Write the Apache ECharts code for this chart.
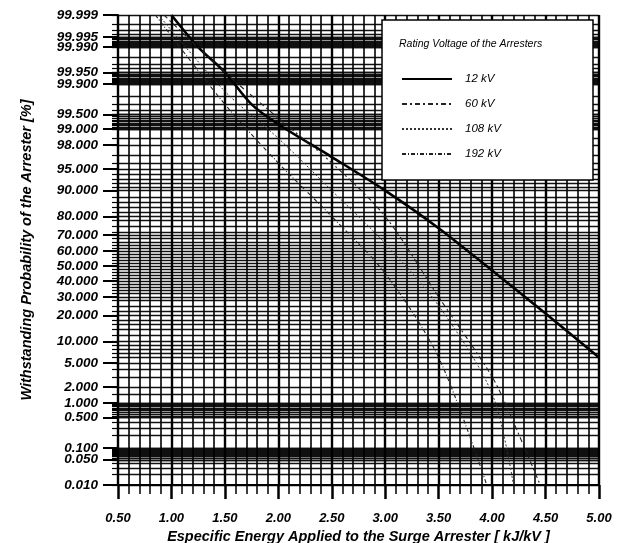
<!DOCTYPE html>
<html>
<head>
<meta charset="utf-8">
<script src="https://cdn.jsdelivr.net/npm/echarts@6/dist/echarts.min.js"></script>
<style>
html, body { margin: 0; padding: 0; background: #fff; }
#chart { width: 617px; height: 543px; }
</style>
</head>
<body>
<div id="chart"></div>
<script>
// labelled probabilities on the y axis (%)
const labelProbs = [99.999, 99.995, 99.99, 99.95, 99.9, 99.5, 99, 98, 95, 90, 80, 70, 60, 50, 40, 30, 20, 10, 5, 2, 1, 0.5, 0.1, 0.05, 0.01];
const labelTexts = ['99.999', '99.995', '99.990', '99.950', '99.900', '99.500', '99.000', '98.000', '95.000', '90.000',
    '80.000', '70.000', '60.000', '50.000', '40.000', '30.000', '20.000', '10.000', '5.000', '2.000',
    '1.000', '0.500', '0.100', '0.050', '0.010'];

// extra rulings of the probability paper (%)
const gridProbs = [0.02, 0.03, 0.04, 0.06, 0.07, 0.08, 0.09, 0.2, 0.3, 0.4, 1.5, 3, 4, 6, 7, 8, 9, 12, 14, 16, 18,
    22, 25, 28, 32, 34, 36, 38, 42, 44, 46, 48, 52, 54, 56, 58, 62, 64, 66, 68, 72, 75, 78, 82, 84, 86, 88,
    91, 92, 93, 94, 96, 97, 98.5, 99.6, 99.7, 99.8, 99.96, 99.97, 99.98, 99.996, 99.997, 99.998];
// dense bands (from, to, step) as printed on the paper
const gridBands = [[0.05, 0.1, 0.005], [0.5, 1, 0.05], [99, 99.5, 0.05], [99.9, 99.95, 0.005], [99.99, 99.995, 0.0005]];

// specific energy (kJ/kV) vs withstanding probability (%)
const seriesNames = ['12 kV', '60 kV', '108 kV', '192 kV'];
const kv12 = [[1.0, 99.999], [1.25, 99.99], [1.5, 99.95], [1.75, 99.7], [2.0, 99.2], [2.5, 96.8], [3.0, 90], [3.5, 74], [4.0, 47], [4.5, 21], [5.0, 6]];
const kv60 = [[0.93, 99.999], [1.5, 99.95], [2.0, 99.4], [2.5, 96], [3.0, 80], [3.5, 30], [4.0, 3], [4.2, 0.4], [4.45, 0.01]];
const kv108 = [[0.88, 99.999], [1.5, 99.85], [2.0, 98.5], [2.5, 90], [3.0, 65], [3.5, 25], [4.0, 1.5], [4.2, 0.01]];
const kv192 = [[0.85, 99.999], [1.5, 99.7], [2.0, 96], [2.5, 80], [3.0, 45], [3.5, 6], [3.95, 0.01]];

// inverse normal cdf (Acklam) -> probability paper scale
function probit(p) {
    const a = [-3.969683028665376e+01, 2.209460984245205e+02, -2.759285104469687e+02, 1.383577518672690e+02, -3.066479806614716e+01, 2.506628277459239e+00];
    const b = [-5.447609879822406e+01, 1.615858368580409e+02, -1.556989798598866e+02, 6.680131188771972e+01, -1.328068155288572e+01];
    const c = [-7.784894002430293e-03, -3.223964580411365e-01, -2.400758277161838e+00, -2.549732539343734e+00, 4.374664141464968e+00, 2.938163982698783e+00];
    const d = [7.784695709041462e-03, 3.224671290700398e-01, 2.445134137142996e+00, 3.754408661907416e+00];
    const pl = 0.02425;
    let q, r;
    if (p < pl) {
        q = Math.sqrt(-2 * Math.log(p));
        return (((((c[0] * q + c[1]) * q + c[2]) * q + c[3]) * q + c[4]) * q + c[5]) / ((((d[0] * q + d[1]) * q + d[2]) * q + d[3]) * q + 1);
    }
    if (p <= 1 - pl) {
        q = p - 0.5;
        r = q * q;
        return (((((a[0] * r + a[1]) * r + a[2]) * r + a[3]) * r + a[4]) * r + a[5]) * q / (((((b[0] * r + b[1]) * r + b[2]) * r + b[3]) * r + b[4]) * r + 1);
    }
    q = Math.sqrt(-2 * Math.log(1 - p));
    return -(((((c[0] * q + c[1]) * q + c[2]) * q + c[3]) * q + c[4]) * q + c[5]) / ((((d[0] * q + d[1]) * q + d[2]) * q + d[3]) * q + 1);
}
const toZ = pct => probit(pct / 100);

const zMin = toZ(0.01);
const zMax = toZ(99.999);
const labelZ = labelProbs.map(toZ);

let rulings = labelProbs.concat(gridProbs);
gridBands.forEach(function (b) {
    for (let v = b[0]; v <= b[1] + 1e-9; v += b[2]) rulings.push(+v.toFixed(5));
});
const rulingZ = rulings.map(toZ);

const boldItalic = { fontFamily: 'Liberation Sans', fontWeight: 'bold', fontStyle: 'italic', color: '#000' };

var dom = document.getElementById('chart');
var myChart = echarts.init(dom);

function lineSeries(name, pts, style) {
    return {
        name: name,
        type: 'line',
        symbol: 'none',
        smooth: 0.3,
        z: 2,
        data: pts.map(p => [p[0], toZ(p[1])]),
        lineStyle: style,
        itemStyle: { color: style.color }
    };
}

var option = {
    animation: false,
    backgroundColor: '#fff',
    grid: { left: 118, right: 18, top: 15, bottom: 58, outerBoundsMode: 'none' },
    xAxis: {
        type: 'value',
        min: 0.5,
        max: 5.0,
        interval: 0.5,
        name: 'Especific Energy Applied to the Surge Arrester [ kJ/kV ]',
        nameLocation: 'middle',
        nameGap: 37,
        nameTextStyle: Object.assign({ fontSize: 14.5 }, boldItalic),
        axisLine: { show: true, onZero: false, lineStyle: { color: '#000', width: 2 } },
        axisTick: { show: true, length: 14, lineStyle: { color: '#000', width: 2.5 } },
        minorTick: { show: true, splitNumber: 5, length: 9, lineStyle: { color: '#000', width: 1.5 } },
        axisLabel: Object.assign({ fontSize: 13, margin: 27, formatter: v => v.toFixed(2) }, boldItalic),
        splitLine: { show: true, lineStyle: { color: '#000', width: 2.4 } },
        minorSplitLine: { show: true, lineStyle: { color: '#000', width: 1.6 } }
    },
    yAxis: [
        {
            type: 'value',
            min: zMin,
            max: zMax,
            position: 'left',
            axisLine: { show: true, lineStyle: { color: '#000', width: 2 } },
            axisTick: { show: true, customValues: rulingZ, length: 6, lineStyle: { color: '#000', width: 1.2 } },
            axisLabel: { show: false },
            splitLine: { show: true, lineStyle: { color: '#111', width: 1.3 } }
        },
        {
            type: 'value',
            min: zMin,
            max: zMax,
            position: 'left',
            offset: 0,
            name: 'Withstanding Probability of the Arrester [%]',
            nameLocation: 'middle',
            nameGap: 84,
            nameTextStyle: Object.assign({ fontSize: 14.5 }, boldItalic),
            axisLine: { show: false },
            axisTick: { show: true, customValues: labelZ, length: 15, lineStyle: { color: '#000', width: 2 } },
            axisLabel: Object.assign({
                fontSize: 13.5,
                margin: 20,
                customValues: labelZ,
                formatter: function (v) {
                    for (let i = 0; i < labelZ.length; i++) {
                        if (Math.abs(labelZ[i] - v) < 1e-6) return labelTexts[i];
                    }
                    return '';
                }
            }, boldItalic),
            splitLine: { show: false }
        }
    ],
    legend: {
        orient: 'vertical',
        left: 396,
        top: 68,
        itemWidth: 50,
        itemHeight: 12,
        itemGap: 13,
        data: seriesNames,
        itemStyle: { opacity: 0 },
        textStyle: { fontFamily: 'Liberation Sans', fontStyle: 'italic', fontSize: 11.5, color: '#000', padding: [0, 0, 0, 8] }
    },
    graphic: [
        {
            type: 'rect',
            z: 3,
            shape: { x: 382, y: 20, width: 211, height: 160 },
            style: { fill: '#fff', stroke: '#000', lineWidth: 1.5 }
        },
        {
            type: 'text',
            z: 5,
            x: 399,
            y: 39,
            style: { text: 'Rating Voltage of the Arresters', fontFamily: 'Liberation Sans', fontStyle: 'italic', fontSize: 10.5, fill: '#000' }
        }
    ],
    series: [
        lineSeries(seriesNames[0], kv12, { color: '#000', width: 2.6, type: 'solid' }),
        lineSeries(seriesNames[1], kv60, { color: '#222', width: 1.1, type: [5, 3, 2, 3] }),
        lineSeries(seriesNames[2], kv108, { color: '#333', width: 1, type: [2, 2] }),
        lineSeries(seriesNames[3], kv192, { color: '#222', width: 1.1, type: [4, 2, 1, 2] })
    ]
};

myChart.setOption(option);
</script>
</body>
</html>
